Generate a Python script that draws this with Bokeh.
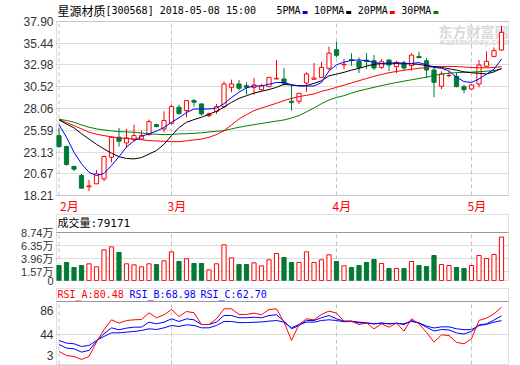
from bokeh.plotting import figure
from bokeh.layouts import column
from bokeh.models import (Range1d, FixedTicker, PrintfTickFormatter, CustomJSTickFormatter,
                          BoxAnnotation, ColumnDataSource)
from bokeh.core.properties import value
from bokeh.embed import file_html
from bokeh.resources import INLINE

# ------------------------------------------------------------------ data
stock_name = "星源材质"
stock_info = "[300568] 2018-05-08 15:00"
months = ["2月", "3月", "4月", "5月"]
month_start = [0, 15, 37, 55]          # bar index of the first trading day of each month
ma_names = ["5PMA", "10PMA", "20PMA", "30PMA"]

opens = [24.99, 23.75, 21.49, 20.47, 19.20, 19.53, 20.09, 22.54, 24.80, 24.16,
         24.54, 24.61, 25.10, 26.23, 25.74, 26.38, 28.20, 27.82, 28.95, 28.57,
         27.25, 27.74, 28.27, 30.45, 30.83, 30.64, 30.45, 30.19, 30.53, 31.40,
         31.40, 28.87, 28.87, 30.94, 31.36, 31.58, 32.60, 34.71, 33.00, 33.60,
         33.39, 33.54, 33.46, 32.71, 33.54, 32.79, 33.20, 32.90, 33.95, 33.46,
         32.41, 30.57, 31.77, 31.70, 30.53, 30.26, 30.83, 32.83, 33.95, 34.67]
highs = [25.90, 23.85, 21.60, 20.66, 19.98, 21.10, 22.73, 24.88, 25.86, 25.74,
         26.23, 25.55, 26.80, 26.31, 27.74, 28.50, 28.50, 29.02, 29.13, 28.65,
         27.60, 28.57, 31.10, 31.32, 31.28, 31.02, 31.50, 30.83, 31.58, 33.54,
         32.64, 30.72, 29.77, 32.15, 33.20, 33.35, 35.05, 35.61, 33.65, 34.30,
         33.84, 34.33, 34.10, 33.65, 33.65, 33.46, 33.46, 34.29, 34.50, 33.77,
         32.79, 32.26, 32.26, 32.15, 30.75, 30.83, 33.54, 34.52, 34.97, 37.42]
lows = [23.60, 21.60, 20.96, 19.04, 18.70, 19.53, 19.83, 21.98, 23.75, 23.60,
        24.35, 24.50, 24.99, 25.93, 25.37, 26.23, 27.36, 27.06, 28.27, 27.25,
        27.06, 27.44, 28.12, 29.89, 30.08, 29.62, 29.62, 30.08, 30.45, 31.36,
        30.64, 27.82, 28.57, 29.96, 31.28, 31.50, 32.34, 33.84, 32.50, 32.90,
        32.07, 32.52, 32.41, 32.52, 32.30, 32.07, 32.41, 32.34, 33.80, 31.50,
        29.32, 30.26, 31.60, 30.45, 29.77, 30.19, 30.45, 32.71, 33.84, 34.59]
closes = [23.75, 21.71, 21.19, 19.04, 19.30, 20.66, 22.62, 24.80, 24.35, 24.73,
          24.99, 24.99, 26.57, 26.01, 26.69, 28.27, 27.50, 28.95, 28.76, 27.44,
          27.44, 28.27, 30.83, 30.83, 30.34, 30.45, 30.72, 30.64, 31.58, 31.47,
          30.90, 28.72, 29.77, 31.96, 31.51, 32.71, 34.33, 34.07, 33.05, 33.50,
          32.71, 33.39, 32.64, 33.35, 32.98, 33.27, 32.64, 34.10, 33.80, 32.41,
          31.02, 31.96, 31.80, 30.53, 30.19, 30.72, 32.98, 33.39, 34.60, 36.67]

ma5 = [26.23, 24.80, 23.10, 21.80, 20.84, 20.47, 20.70, 21.60, 22.60, 23.70,
       24.40, 24.90, 25.20, 25.50, 25.90, 26.50, 27.00, 27.60, 28.00, 28.00,
       28.00, 28.10, 28.60, 29.30, 29.90, 30.40, 30.60, 30.60, 30.80, 31.00,
       31.00, 30.75, 30.60, 30.60, 30.60, 31.00, 32.30, 33.00, 33.30, 33.50,
       33.55, 33.45, 33.30, 33.10, 33.10, 33.15, 33.10, 33.15, 33.25, 33.00,
       32.70, 32.60, 32.30, 31.60, 31.10, 31.00, 31.40, 31.95, 32.50, 33.65]
ma10 = [26.76, 26.30, 25.86, 25.20, 24.60, 24.00, 23.48, 23.00, 22.60, 22.40,
        22.35, 22.50, 22.90, 23.30, 24.00, 25.00, 25.90, 26.50, 26.80, 27.06,
        27.40, 27.74, 28.20, 28.76, 29.20, 29.50, 29.80, 30.00, 30.20, 30.45,
        30.80, 30.70, 30.64, 30.64, 30.90, 31.20, 31.75, 31.95, 32.15, 32.40,
        32.60, 32.85, 33.05, 33.15, 33.20, 33.20, 33.20, 33.10, 33.05, 32.90,
        32.80, 32.70, 32.55, 32.40, 32.20, 32.10, 32.04, 31.96, 32.20, 32.60]
ma20 = [26.80, 26.45, 26.12, 25.75, 25.37, 25.15, 24.99, 24.85, 24.73, 24.65,
        24.61, 24.52, 24.43, 24.38, 24.35, 24.30, 24.30, 24.40, 24.50, 24.60,
        24.80, 25.10, 25.55, 26.20, 26.87, 27.35, 27.82, 28.10, 28.38, 28.65,
        28.95, 29.20, 29.40, 29.55, 29.70, 30.00, 30.20, 30.45, 30.70, 30.95,
        31.20, 31.45, 31.70, 31.90, 32.10, 32.25, 32.38, 32.50, 32.60, 32.70,
        32.79, 32.80, 32.82, 32.80, 32.75, 32.70, 32.66, 32.66, 32.71, 32.79]
ma30 = [26.84, 26.70, 26.50, 26.20, 25.93, 25.75, 25.63, 25.52, 25.44, 25.40,
        25.37, 25.28, 25.18, 25.14, 25.10, 25.12, 25.18, 25.20, 25.25, 25.30,
        25.40, 25.48, 25.55, 25.75, 25.93, 26.08, 26.23, 26.36, 26.50, 26.63,
        26.76, 26.98, 27.25, 27.68, 28.12, 28.60, 29.02, 29.30, 29.51, 29.80,
        30.05, 30.25, 30.45, 30.65, 30.83, 31.00, 31.15, 31.30, 31.45, 31.60,
        31.80, 31.95, 32.05, 32.11, 32.15, 32.18, 32.22, 32.28, 32.34, 32.52]

volume_wan = [2.73, 3.28, 2.37, 2.73, 3.04, 2.49, 5.59, 6.13, 5.10, 3.04,
              2.85, 2.49, 3.04, 2.91, 3.59, 5.22, 3.46, 3.95, 3.10, 3.10,
              1.94, 3.04, 6.50, 4.13, 2.91, 2.91, 3.22, 2.67, 3.77, 4.92,
              4.19, 3.28, 3.28, 5.22, 3.28, 3.77, 4.68, 3.46, 2.67, 2.37,
              2.73, 3.28, 3.83, 3.10, 2.19, 2.19, 2.19, 3.46, 2.73, 2.55,
              4.55, 2.91, 2.73, 2.37, 2.19, 2.73, 4.55, 4.00, 4.74, 7.9171]

rsi_a = [21.9, 16.7, 15.3, 11.4, 15.3, 34.3, 50.6, 63.8, 59.4, 62.9,
         63.8, 64.2, 73.1, 66.5, 70.4, 77.5, 68.2, 74.8, 73.1, 57.6,
         57.6, 65.1, 78.3, 78.3, 70.9, 70.9, 72.6, 70.4, 77.5, 78.3,
         60.7, 36.5, 57.6, 65.1, 63.8, 70.9, 75.3, 72.6, 62.0, 62.0,
         57.6, 59.8, 51.9, 58.5, 54.1, 59.4, 48.8, 65.1, 58.5, 47.0,
         34.3, 44.0, 43.0, 34.0, 32.1, 38.7, 63.0, 66.0, 71.7, 80.48]
rsi_b = [31.2, 26.4, 25.5, 21.1, 23.3, 35.6, 45.3, 53.2, 50.6, 52.8,
         54.1, 54.1, 60.7, 58.5, 60.7, 65.1, 61.6, 65.1, 63.8, 57.6,
         57.6, 60.7, 69.5, 69.5, 66.5, 66.5, 67.3, 66.5, 69.5, 70.4,
         62.0, 51.9, 56.3, 62.9, 62.9, 66.5, 69.5, 65.1, 62.0, 62.0,
         60.7, 59.8, 58.5, 59.4, 58.5, 59.4, 57.6, 62.9, 59.4, 54.0,
         49.0, 51.0, 50.5, 46.5, 45.0, 48.5, 57.0, 58.5, 63.5, 68.98]
rsi_c = [36.5, 33.0, 32.1, 28.6, 29.9, 36.5, 41.8, 46.6, 46.6, 47.5,
         48.4, 49.7, 51.9, 51.0, 53.2, 56.3, 55.0, 57.2, 56.3, 53.2,
         53.2, 56.3, 61.6, 61.6, 60.0, 60.2, 60.5, 61.0, 62.0, 62.9,
         60.7, 53.2, 57.6, 60.7, 60.7, 62.9, 63.8, 62.9, 61.2, 61.6,
         59.8, 59.4, 58.5, 59.4, 58.5, 59.0, 58.5, 61.6, 59.8, 55.5,
         53.0, 54.5, 54.5, 52.0, 50.8, 50.8, 56.3, 57.8, 60.7, 62.70]

price_ticks = [18.21, 20.67, 23.13, 25.59, 28.06, 30.52, 32.98, 35.44, 37.90]
vol_ticks = [0, 1.57, 3.96, 6.35, 8.74]
rsi_tick_labels = ["86", "44", "3"]

# ------------------------------------------------------------------ style / layout
RED, GREEN, BLUE, MA_GREEN = "#ff0000", "#007a36", "#0000ff", "#008000"
ma_colors = [BLUE, "#000000", RED, MA_GREEN]
BORDER, GRID, DASH, LABEL = "#999999", "#dcdcdc", "#c4c4c4", "#333333"
CJK, MONO, SANS = "Noto Sans CJK SC", "DejaVu Sans Mono", "Liberation Sans"

W = 520                      # figure width (page x 0 .. 520)
FRAME_L, FRAME_R = 55, 509   # page px of frame edges
BAR0_X, BAR_STEP = 58.5, 7.5


def px_x(px):
    return (px - BAR0_X) / BAR_STEP


x_range = Range1d(px_x(FRAME_L), px_x(FRAME_R))
XL, XR = px_x(56), px_x(508)
n = len(closes)
idx = list(range(n))


def base_fig(height, y_range):
    p = figure(width=W, height=height, x_range=x_range, y_range=y_range,
               output_backend="svg", toolbar_location=None, x_axis_location=None,
               min_border_left=FRAME_L, min_border_right=W - FRAME_R,
               min_border_top=0, min_border_bottom=0)
    p.outline_line_color = None
    p.xgrid.visible = False
    ax = p.yaxis[0]
    ax.axis_line_color = None
    ax.major_tick_line_color = None
    ax.minor_tick_line_color = None
    ax.major_tick_out = 0
    ax.minor_tick_out = 0
    ax.major_tick_in = 0
    ax.minor_tick_in = 0
    ax.major_label_standoff = 2
    ax.major_label_text_color = LABEL
    ax.major_label_text_font = SANS + ", " + CJK
    ax.major_label_text_font_size = "12px"
    p.ygrid.grid_line_color = GRID
    return p


def border_box(p, bottom, top):
    p.add_layout(BoxAnnotation(left=XL, right=XR, bottom=bottom, top=top,
                               fill_alpha=0, fill_color=None,
                               line_color=BORDER, line_width=1))


up = [c >= o for o, c in zip(opens, closes)]
src = ColumnDataSource(dict(
    x=idx, high=highs, low=lows,
    top=[max(o, c) for o, c in zip(opens, closes)],
    bottom=[min(o, c) for o, c in zip(opens, closes)],
    color=[RED if u else GREEN for u in up],
    fill=["#ffffff" if u else GREEN for u in up],
    vol=volume_wan,
))

# ------------------------------------------------------------------ main price panel
M_TOP, M_BOT = 0, 213
P_TOP_Y, P_BOT_Y = 21, 195
pmin, pmax = price_ticks[0], price_ticks[-1]
kp = (pmax - pmin) / (P_BOT_Y - P_TOP_Y)


def py(page_y):
    return pmin + (P_BOT_Y - page_y) * kp


main = base_fig(M_BOT - M_TOP, Range1d(py(M_BOT), py(M_TOP)))
main.yaxis.ticker = FixedTicker(ticks=price_ticks)
main.yaxis.formatter = PrintfTickFormatter(format="%.2f")
main.ygrid.ticker = FixedTicker(ticks=price_ticks)

main.segment(x0=month_start, y0=[pmin] * len(month_start), x1=month_start,
             y1=[pmax] * len(month_start), line_color=DASH, line_dash="4 3", line_width=1)

# watermark
main.text(x=[px_x(438)], y=[py(30)], text=["东方财富网"], text_font=value(CJK),
          text_font_size="14px", text_font_style="bold", text_color="#dadada",
          text_baseline="middle", text_align="left")
main.text(x=[px_x(439)], y=[py(42)], text=["eastmoney.com"], text_font=value("DejaVu Sans"),
          text_font_size="8px", text_font_style="bold", text_color="#dddddd",
          text_baseline="middle", text_align="left")

# candles
main.segment(x0="x", y0="high", x1="x", y1="low", line_color="color", line_width=1, source=src)
main.vbar(x="x", width=0.56, top="top", bottom="bottom", fill_color="fill",
          line_color="color", line_width=1, source=src)

# moving averages
for ma, col in zip([ma30, ma20, ma10, ma5], ma_colors[::-1]):
    main.line(idx, ma, line_color=col, line_width=1)

border_box(main, pmin, pmax)

# header
HDR_Y = 10
main.text(x=[px_x(57)], y=[py(HDR_Y)], text=[stock_name], text_font=value(CJK),
          text_font_size="12px", text_color="#000000", text_baseline="middle", text_align="left")
main.text(x=[px_x(105)], y=[py(HDR_Y)], text=[stock_info], text_font=value(MONO),
          text_font_size="10px", text_color="#000000", text_baseline="middle", text_align="left")
CH = 6.02
lx = 276
for name, col in zip(ma_names, ma_colors):
    main.text(x=[px_x(lx)], y=[py(HDR_Y)], text=[name], text_font=value(MONO),
              text_font_size="10px", text_color="#000000", text_baseline="middle", text_align="left")
    rx = lx + len(name) * CH + 2
    main.rect(x=[px_x(rx + 2.5)], y=[py(HDR_Y + 2)], width=5, height=3,
              width_units="screen", height_units="screen", fill_color=col, line_color=None)
    lx = rx + 5 + 6.5

# month labels
main.text(x=month_start, y=[py(205)] * len(months), text=months,
          x_offset=[1 if i == 0 else -4 for i in range(len(months))],
          text_font=value(CJK), text_font_size="12px", text_color=RED,
          text_baseline="middle", text_align="left")

# ------------------------------------------------------------------ volume panel
V_TOP, V_BOT = 213, 286
V0_Y, VMAX_Y = 280, 232
vmax = vol_ticks[-1]
kv = vmax / (V0_Y - VMAX_Y)


def vy(page_y):
    return (V0_Y - page_y) * kv


vol = base_fig(V_BOT - V_TOP, Range1d(vy(V_BOT), vy(V_TOP)))
vol.yaxis.ticker = FixedTicker(ticks=vol_ticks)
vol.yaxis.formatter = CustomJSTickFormatter(code="return tick == 0 ? '0' : tick.toFixed(2) + '万'")
vol.yaxis.major_label_text_font_size = "11px"
vol.ygrid.ticker = FixedTicker(ticks=vol_ticks[1:-1])
vol.segment(x0=month_start, y0=[0] * len(month_start), x1=month_start,
            y1=[vmax] * len(month_start), line_color=DASH, line_dash="4 3", line_width=1)
vol.vbar(x="x", width=0.56, top="vol", bottom=0, fill_color="fill",
         line_color="color", line_width=1, source=src)
border_box(vol, 0, vy(214))
vol.segment(x0=[XL], y0=[vmax], x1=[XR], y1=[vmax], line_color=BORDER, line_width=1)
vol.text(x=[px_x(57)], y=[vy(223)], text=["成交量:%d" % round(volume_wan[-1] * 10000)],
         text_font=value(MONO + ", " + CJK), text_font_size="11px", text_color="#000000",
         text_baseline="middle", text_align="left")

# ------------------------------------------------------------------ RSI panel
R_TOP, R_BOT = 286, 365
R_SEP_Y, R_SEP_V, R_PX = 301, 88.0, 0.7566


def ry(page_y):
    return R_SEP_V + (R_SEP_Y - page_y) / R_PX


rsi = base_fig(R_BOT - R_TOP, Range1d(ry(R_BOT), ry(R_TOP)))
rsi_tick_pos = [ry(310), ry(334.3), ry(355)]
rsi.yaxis.ticker = FixedTicker(ticks=rsi_tick_pos)
rsi.yaxis.major_label_overrides = {t: s for t, s in zip(rsi_tick_pos, rsi_tick_labels)}
rsi.ygrid.ticker = FixedTicker(ticks=[rsi_tick_pos[1]])
rsi.segment(x0=month_start, y0=[ry(364)] * len(month_start), x1=month_start,
            y1=[R_SEP_V] * len(month_start), line_color=DASH, line_dash="4 3", line_width=1)
rsi.line(idx, rsi_c, line_color=BLUE, line_width=1)
rsi.line(idx, rsi_b, line_color=BLUE, line_width=1)
rsi.line(idx, rsi_a, line_color=RED, line_width=1)
border_box(rsi, ry(364), ry(288))
rsi.segment(x0=[XL], y0=[R_SEP_V], x1=[XR], y1=[R_SEP_V], line_color=BORDER, line_width=1)
for lab, series, col, hx in zip(["RSI_A", "RSI_B", "RSI_C"], [rsi_a, rsi_b, rsi_c],
                               [RED, BLUE, BLUE], [57, 129, 200]):
    rsi.text(x=[px_x(hx)], y=[ry(294)], text=["%s:%.2f" % (lab, series[-1])],
             text_font=value(MONO), text_font_size="10px", text_color=col,
             text_baseline="middle", text_align="left")

layout = column(main, vol, rsi)
open("out.html", "w").write(file_html(layout, INLINE, title="星源材质"))
